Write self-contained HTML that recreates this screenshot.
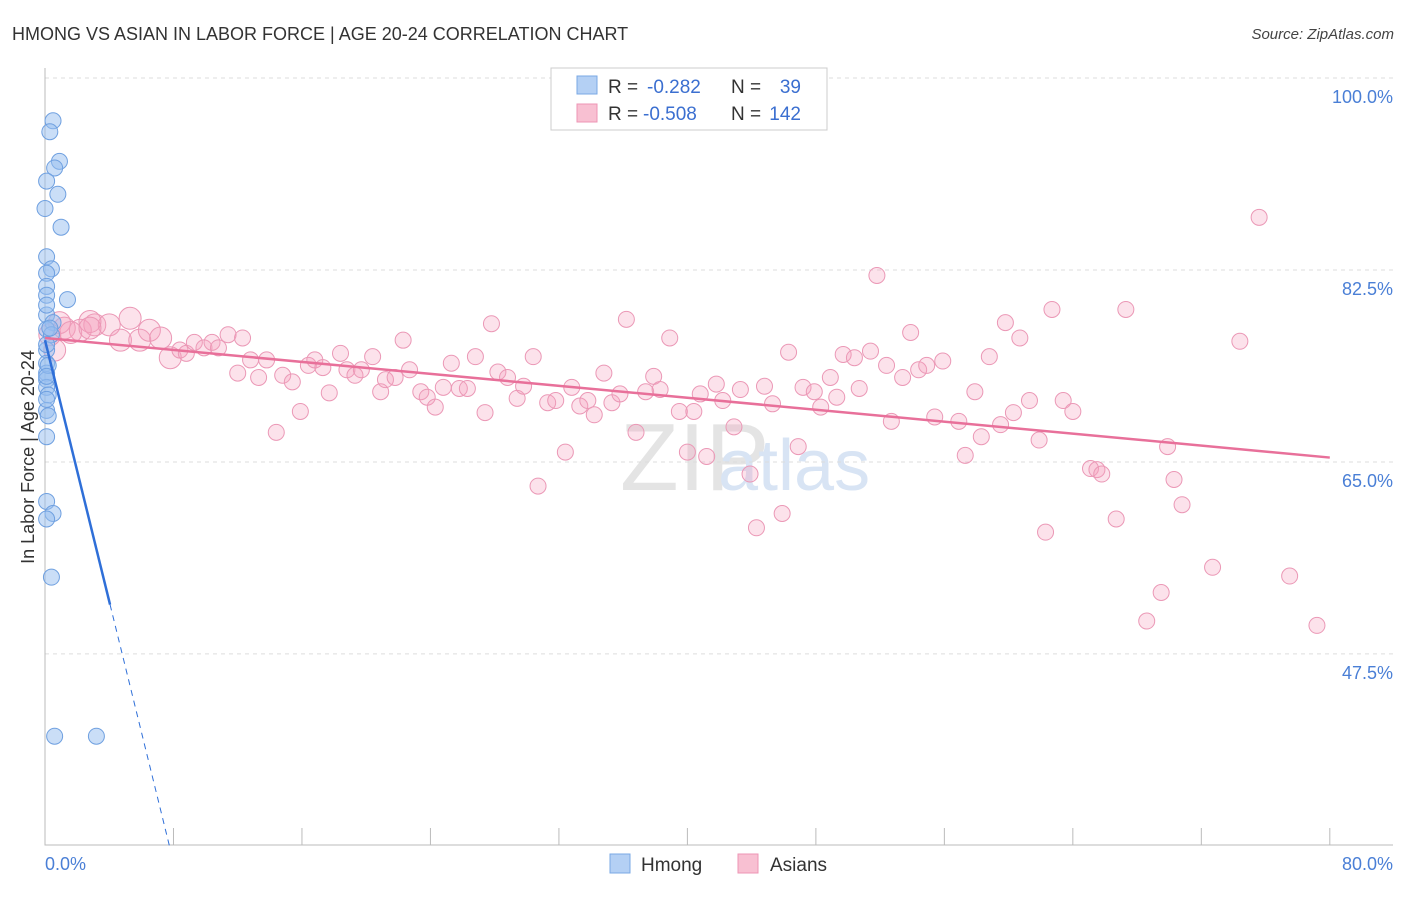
<!DOCTYPE html>
<html><head><meta charset="utf-8"><style>
body{margin:0;background:#fff;font-family:"Liberation Sans",sans-serif;}
svg text{font-family:"Liberation Sans",sans-serif;}
</style></head><body>
<svg id="chart" width="1406" height="892" viewBox="0 0 1406 892" xmlns="http://www.w3.org/2000/svg">
<text x="12" y="40" font-size="18" fill="#333">HMONG VS ASIAN IN LABOR FORCE | AGE 20-24 CORRELATION CHART</text>
<text x="1394" y="39" font-size="15" fill="#444" text-anchor="end" font-style="italic">Source: ZipAtlas.com</text>
<text x="620" y="490" font-size="96" fill="#e4e4e4" font-family="Liberation Serif">ZIP</text>
<text x="718" y="490" font-size="72" fill="#d8e4f4">atlas</text>
<g id="grid"></g><g id="axes"></g><g id="pts"></g><g id="trend"></g>
<text transform="translate(34,457) rotate(-90)" font-size="18" fill="#333" text-anchor="middle">In Labor Force | Age 20-24</text>
<text x="45" y="870" font-size="18" fill="#4a7fd6">0.0%</text>
<text x="1393" y="870" font-size="18" fill="#4a7fd6" text-anchor="end">80.0%</text>
<g>
<rect x="551" y="68" width="276" height="62" fill="#fff" stroke="#ccc"/>
<rect x="577" y="76" width="20" height="18" fill="#b4d0f4" stroke="#7aa8e4"/>
<text x="608" y="93" font-size="19" fill="#333">R =</text>
<text x="647" y="93" font-size="19" fill="#3b6fd0">-0.282</text>
<text x="731" y="93" font-size="19" fill="#333">N =</text>
<text x="801" y="93" font-size="19" fill="#3b6fd0" text-anchor="end">39</text>
<rect x="577" y="104" width="20" height="18" fill="#f8c0d2" stroke="#ee95b4"/>
<text x="608" y="120" font-size="19" fill="#333">R =</text>
<text x="643" y="120" font-size="19" fill="#3b6fd0">-0.508</text>
<text x="731" y="120" font-size="19" fill="#333">N =</text>
<text x="801" y="120" font-size="19" fill="#3b6fd0" text-anchor="end">142</text>
</g>
<g>
<rect x="610" y="854" width="20" height="19" fill="#b4d0f4" stroke="#7aa8e4"/>
<text x="641" y="871" font-size="19" fill="#333">Hmong</text>
<rect x="738" y="854" width="20" height="19" fill="#f8c0d2" stroke="#ee95b4"/>
<text x="770" y="871" font-size="19" fill="#333">Asians</text>
</g>
</svg>
<script>
const yTicks=[100,82.5,65,47.5];
const xTicks=[8,16,24,32,40,48,56,64,72,80];
const hmongX=[0.5,0.3,0.9,0.6,0.1,0.8,0,1.0,0.1,0.4,0.1,0.1,0.1,1.4,0.1,0.5,0.1,0.4,0.1,0.1,0.1,0.1,0.1,0.2,0.1,0.2,0.1,0.1,0.5,0.1,0.4,0.6,3.2,0.1,0.2,0.1,0.1,0.3,0.1];
const hmongY=[96.1,95.1,92.4,91.8,90.6,89.4,88.1,86.4,83.7,82.6,82.2,81.0,80.2,79.8,78.4,77.7,77.1,76.6,75.2,74.0,73.1,72.5,71.8,71.1,69.7,69.2,67.3,61.4,60.3,59.8,54.5,40.0,40.0,75.7,73.8,72.8,70.7,77.2,79.3];
const asianX=[0.6,1.2,2.2,3.1,4.0,5.3,4.7,5.9,6.5,7.2,7.8,8.4,8.8,9.3,9.9,10.4,10.8,11.4,12.0,12.3,12.8,13.3,13.8,14.4,14.8,15.4,15.9,16.4,16.8,17.3,17.7,18.4,18.8,19.3,19.7,20.4,20.9,21.2,21.8,22.3,22.7,23.4,23.8,24.3,24.8,25.3,25.8,26.3,26.8,27.4,27.8,28.2,28.8,29.4,29.8,30.4,30.7,31.3,31.8,32.4,32.8,33.3,33.8,34.2,34.8,35.3,35.8,36.2,36.8,37.4,37.9,38.3,38.9,39.5,40.0,40.4,40.8,41.2,41.8,42.2,42.9,43.3,43.9,44.3,44.8,45.3,45.9,46.3,46.9,47.2,47.9,48.3,48.9,49.3,49.7,50.4,50.7,51.4,51.8,52.4,52.7,53.4,53.9,54.4,54.9,55.4,55.9,56.9,57.3,57.9,58.3,58.8,59.5,59.8,60.3,60.7,61.3,61.9,62.3,62.7,63.4,64.0,65.1,65.5,65.8,66.7,67.3,68.6,69.5,69.9,70.3,70.8,72.7,74.4,75.6,77.5,79.2,0.9,2.8,0.3,1.6,2.8];
const asianY=[75.2,77.2,77.0,77.5,77.5,78.1,76.1,76.1,77.0,76.3,74.5,75.2,74.9,75.9,75.4,75.9,75.4,76.6,73.1,76.3,74.3,72.7,74.3,67.7,72.9,72.3,69.6,73.8,74.3,73.6,71.3,74.9,73.4,72.9,73.4,74.6,71.4,72.5,72.7,76.1,73.4,71.4,70.9,70.0,71.8,74.0,71.7,71.7,74.6,69.5,77.6,73.2,72.7,70.8,71.9,74.6,62.8,70.4,70.6,65.9,71.8,70.1,70.6,69.3,73.1,70.4,71.2,78.0,67.7,71.4,72.8,71.6,76.3,69.6,65.9,69.6,71.2,65.5,72.1,70.6,68.2,71.6,63.9,59.0,71.9,70.3,60.3,75.0,66.4,71.8,71.4,70.0,72.7,70.9,74.8,74.5,71.7,75.1,82.0,73.8,68.7,72.7,76.8,73.4,73.8,69.1,74.2,68.7,65.6,71.4,67.3,74.6,68.4,77.7,69.5,76.3,70.6,67.0,58.6,78.9,70.6,69.6,64.4,64.3,63.9,59.8,78.9,50.5,53.1,66.4,63.4,61.1,55.4,76.0,87.3,54.6,50.1,77.7,77.8,76.6,76.8,77.2];
const asianTrend=[76.3,65.4];
const hmongTrend=[76.1,-5.95];
const X=v=>45+v*16.06, Y=v=>78+(100-v)*10.97;
const NS="http://www.w3.org/2000/svg";
function mk(p,t,a){const e=document.createElementNS(NS,t);for(const k in a)e.setAttribute(k,a[k]);document.getElementById(p).appendChild(e);return e;}
yTicks.forEach(t=>{
 const l=mk('grid','line',{x1:45,x2:1393,y1:Y(t),y2:Y(t),stroke:'#ddd','stroke-dasharray':'4,4'});
 
 
 const tx=mk('grid','text',{x:1393,y:Y(t)+25,'font-size':18,fill:'#4a7fd6','text-anchor':'end'});
 tx.textContent=t.toFixed(1)+'%';
 
 
});
const ax=mk('axes','path',{d:`M45,68V845H1393`,stroke:'#bbb',fill:'none'});


xTicks.forEach(t=>{
 const l=mk('axes','line',{x1:X(t),x2:X(t),y1:828,y2:845,stroke:'#bbb'});
 
 
});
asianX.forEach((x,i)=>{
 const c=mk('pts','circle',{cx:X(x),cy:Y(asianY[i]),r:x<8?11:8,fill:'rgba(244,160,190,0.3)',stroke:'#eb98b6','stroke-width':1});
 
 
});
hmongX.forEach((x,i)=>{
 const c=mk('pts','circle',{cx:X(x),cy:Y(hmongY[i]),r:8,fill:'rgba(150,190,240,0.5)',stroke:'#6fa0e0','stroke-width':1});
 
 
});
const at=mk('trend','line',{x1:X(0),y1:Y(asianTrend[0]),x2:X(80),y2:Y(asianTrend[1]),stroke:'#e8709a','stroke-width':2.5});


const hy=x=>hmongTrend[0]+hmongTrend[1]*x;
const xEnd=(30-hmongTrend[0])/hmongTrend[1];
const ht=mk('trend','line',{x1:X(0),y1:Y(hy(0)),x2:X(4.05),y2:Y(hy(4.05)),stroke:'#2f6fd8','stroke-width':2.5});


const hd=mk('trend','line',{x1:X(4.05),y1:Y(hy(4.05)),x2:X(xEnd),y2:Y(30),stroke:'#2f6fd8','stroke-width':1,'stroke-dasharray':'6,5'});


</script>
</body></html>
